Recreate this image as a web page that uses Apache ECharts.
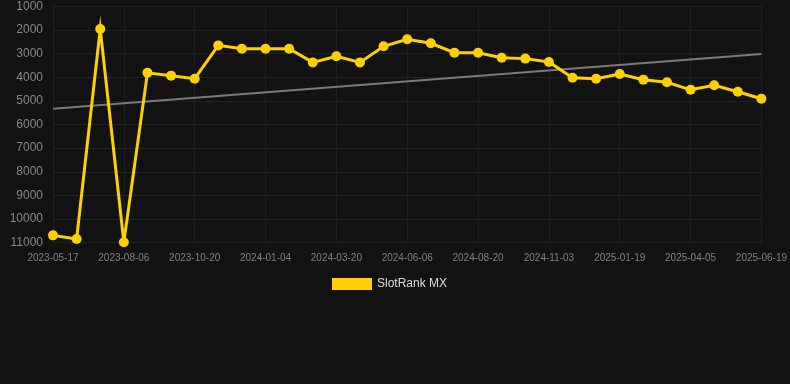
<!DOCTYPE html>
<html>
<head>
<meta charset="utf-8">
<script src="https://cdn.jsdelivr.net/npm/echarts@6/dist/echarts.min.js"></script>
<style>
html,body{margin:0;padding:0;background:#121212;}
#chart{width:790px;height:384px;}
</style>
</head>
<body>
<div id="chart"></div>
<script>
var dates = [
  '2023-05-17','2023-06-13','2023-07-10','2023-08-06','2023-08-31','2023-09-25',
  '2023-10-20','2023-11-14','2023-12-10','2024-01-04','2024-01-29','2024-02-24',
  '2024-03-20','2024-04-15','2024-05-11','2024-06-06','2024-07-01','2024-07-26',
  '2024-08-20','2024-09-14','2024-10-09','2024-11-03','2024-11-29','2024-12-24',
  '2025-01-19','2025-02-13','2025-03-11','2025-04-05','2025-04-30','2025-05-25',
  '2025-06-19'
];
var rankValues = [
  10690, 10840, 1960, 10980, 3810, 3930,
  4060, 2650, 2790, 2790, 2790, 3370,
  3110, 3370, 2690, 2390, 2560, 2960,
  2960, 3170, 3210, 3350, 4020, 4060,
  3860, 4100, 4210, 4530, 4340, 4610,
  4910
];
var trendStart = 5330;
var trendEnd = 3010;
var seriesName = 'SlotRank MX';

var trendData = dates.map(function (d, i) {
  if (i === 0) return trendStart;
  if (i === dates.length - 1) return trendEnd;
  return null;
});

var chart = echarts.init(document.getElementById('chart'));
chart.setOption({
  backgroundColor: '#121212',
  animation: false,
  grid: { left: 53, right: 28, top: 6.4, bottom: 141.3, containLabel: false },
  legend: {
    data: [seriesName],
    left: 327,
    top: 273,
    icon: 'rect',
    itemWidth: 40,
    itemHeight: 12,
    itemGap: 10,
    textStyle: { color: '#dddddd', fontSize: 12, fontFamily: 'Liberation Sans, Arial, sans-serif' }
  },
  xAxis: {
    type: 'category',
    data: dates,
    boundaryGap: false,
    axisLine: { show: false },
    axisTick: { show: false },
    axisLabel: {
      interval: 2,
      color: '#808080',
      fontSize: 10,
      margin: 11,
      fontFamily: 'Liberation Sans, Arial, sans-serif'
    },
    splitLine: { show: true, interval: 2, lineStyle: { color: '#1f1f1f', width: 1 } }
  },
  yAxis: {
    type: 'value',
    inverse: true,
    min: 1000,
    max: 11000,
    interval: 1000,
    axisLine: { show: false },
    axisTick: { show: false },
    axisLabel: {
      color: '#888888',
      fontSize: 12,
      margin: 10,
      fontFamily: 'Liberation Sans, Arial, sans-serif',
      formatter: function (v) { return String(v); }
    },
    splitLine: { show: true, lineStyle: { color: '#222222', width: 1 } }
  },
  series: [
    {
      name: 'trend',
      type: 'line',
      data: trendData,
      connectNulls: true,
      symbol: 'none',
      silent: true,
      lineStyle: { color: '#7a7a7a', width: 2 },
      z: 1
    },
    {
      name: seriesName,
      type: 'line',
      data: rankValues,
      symbol: 'circle',
      symbolSize: 10,
      itemStyle: { color: '#ffd000' },
      lineStyle: { color: '#ffd000', width: 3, join: 'miter', miterLimit: 20 },
      z: 2
    }
  ]
});
</script>
</body>
</html>
